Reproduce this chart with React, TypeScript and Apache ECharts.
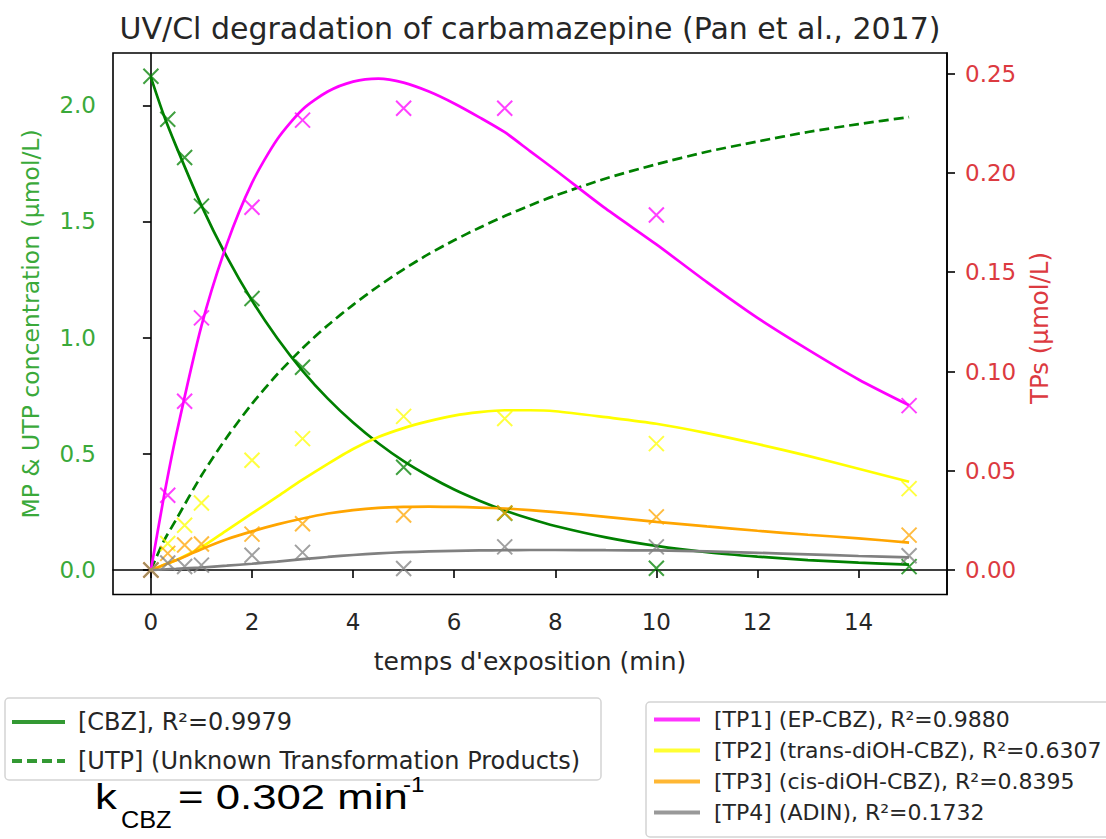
import React, { useEffect, useRef } from 'react';
import * as echarts from 'echarts';

// ---------- DATA ----------
const xTicks = [0, 2, 4, 6, 8, 10, 12, 14];
const leftTicks = [0, 0.5, 1.0, 1.5, 2.0];
const rightTicks = [0, 0.05, 0.1, 0.15, 0.2, 0.25];

// fitted curves
const fitT = [0, 0.25, 0.5, 1, 1.5, 2, 2.5, 3, 3.5, 4, 4.5, 5, 5.5, 6, 6.5, 7, 7.5, 8, 9, 10, 11, 12, 13, 14, 15];
const cbzFit = [2.12, 1.96, 1.823, 1.568, 1.348, 1.159, 0.997, 0.857, 0.737, 0.634, 0.545, 0.468, 0.403, 0.346, 0.298, 0.256, 0.22, 0.189, 0.14, 0.103, 0.076, 0.057, 0.042, 0.031, 0.023];
const utpFit = [0, 0.122, 0.217, 0.406, 0.57, 0.715, 0.842, 0.954, 1.053, 1.141, 1.221, 1.294, 1.36, 1.419, 1.473, 1.523, 1.569, 1.611, 1.685, 1.746, 1.8, 1.844, 1.885, 1.919, 1.949];
const tp1Fit = [0, 0.036, 0.068, 0.123, 0.164, 0.195, 0.217, 0.232, 0.241, 0.246, 0.2475, 0.2455, 0.241, 0.235, 0.228, 0.2205, 0.211, 0.2015, 0.182, 0.164, 0.145, 0.127, 0.111, 0.096, 0.083];
const tp2Fit = [0, 0.0025, 0.005, 0.0115, 0.02, 0.0285, 0.037, 0.0455, 0.0535, 0.061, 0.067, 0.0715, 0.075, 0.0778, 0.0795, 0.0805, 0.0805, 0.08, 0.077, 0.0737, 0.069, 0.0635, 0.0575, 0.051, 0.0445];
const tp3Fit = [0, 0.0025, 0.005, 0.0105, 0.0155, 0.0195, 0.023, 0.026, 0.0285, 0.0302, 0.0313, 0.0318, 0.032, 0.0318, 0.0315, 0.031, 0.0302, 0.0292, 0.0268, 0.0243, 0.022, 0.0198, 0.0178, 0.016, 0.0138];
const tp4Fit = [0, 0.0003, 0.0006, 0.0013, 0.0022, 0.0032, 0.0043, 0.0055, 0.0066, 0.0076, 0.0084, 0.009, 0.0094, 0.0097, 0.0099, 0.01, 0.0101, 0.0101, 0.01, 0.0099, 0.0094, 0.0087, 0.0079, 0.0071, 0.0064];

// measured points
const obsT = [0, 0.333, 0.667, 1, 2, 3, 5, 7, 10, 15];
const cbzObs = [2.125, 1.94, 1.775, 1.566, 1.168, 0.872, 0.442, 0.244, 0.007, 0.014];
const tp1Obs = [0, 0.0377, 0.085, 0.127, 0.1827, 0.2266, 0.2326, 0.2326, 0.1788, 0.0828];
const tp2Obs = [0, 0.0134, 0.0226, 0.0338, 0.0553, 0.0662, 0.0774, 0.0763, 0.0637, 0.041];
const tp3Obs = [0, 0.0084, 0.0126, 0.0131, 0.0181, 0.0233, 0.0277, 0.0288, 0.0268, 0.0176];
const tp4Obs = [0, 0.0036, 0.0018, 0.0025, 0.0075, 0.0089, 0.0008, 0.0117, 0.0117, 0.0072];

const names = {
  cbz: '[CBZ], R²=0.9979',
  utp: '[UTP] (Unknown Transformation Products)',
  tp1: '[TP1] (EP-CBZ), R²=0.9880',
  tp2: '[TP2] (trans-diOH-CBZ), R²=0.6307',
  tp3: '[TP3] (cis-diOH-CBZ), R²=0.8395',
  tp4: '[TP4] (ADIN), R²=0.1732',
};

const GREEN = '#008000';
const MAGENTA = '#ff00ff';
const YELLOW = '#ffff00';
const ORANGE = '#ffa500';
const GRAY = '#808080';
const FONT = 'DejaVu Sans';
const TXT = '#262626';
const LGREEN = '#3aa93a';
const LRED = '#dc3a40';

const pairs = (t: number[], v: number[]) => t.map((x, i) => [x, v[i]]);
const X_SYMBOL = 'path://M0,0L10,10M10,0L0,10';

function fitSeries(name: string, color: string, t: number[], v: number[], axis: number, dashed = false) {
  return {
    name,
    type: 'line',
    yAxisIndex: axis,
    data: pairs(t, v),
    smooth: 0.25,
    symbol: 'none',
    lineStyle: { color, width: 2.7, type: dashed ? [10, 5] : 'solid' },
    itemStyle: { color },
    z: 2,
  };
}

function obsSeries(id: string, color: string, v: number[], axis: number) {
  return {
    name: id,
    type: 'scatter',
    yAxisIndex: axis,
    data: pairs(obsT, v),
    symbol: X_SYMBOL,
    symbolSize: 15,
    itemStyle: { color: 'none', borderColor: color, borderWidth: 2, opacity: 0.75 },
    z: 3,
  };
}

export default function App() {
  const ref = useRef<HTMLDivElement>(null);
  useEffect(() => {
    const chart = echarts.init(ref.current!, null, { renderer: 'svg' });
    const axisLine = { show: true, lineStyle: { color: '#000', width: 1.6 } };
    const tick = (vals: number[]) => ({ show: true, customValues: vals, length: 8, lineStyle: { color: '#000', width: 1.6 } });
    const legendCommon = {
      orient: 'vertical', padding: 0, selectedMode: false,
      itemStyle: { opacity: 0 },
      lineStyle: { width: 4, opacity: 0.8 },
    };
    const option: any = {
      animation: false,
      backgroundColor: '#fff',
      textStyle: { fontFamily: FONT },
      grid: { left: 113, right: 159, top: 53, bottom: 244.5, show: true, borderColor: '#000', borderWidth: 1.6, containLabel: false },
      xAxis: {
        type: 'value', min: -0.75, max: 15.75,
        axisLine,
        axisTick: tick(xTicks),
        axisLabel: { customValues: xTicks, margin: 16, fontSize: 23, color: TXT, fontFamily: FONT },
        splitLine: { show: false },
      },
      yAxis: [
        {
          type: 'value', min: -0.106, max: 2.225, position: 'left',
          axisLine,
          axisTick: tick(leftTicks),
          axisLabel: { customValues: leftTicks, margin: 17, fontSize: 23, color: LGREEN, fontFamily: FONT, formatter: (v: number) => v.toFixed(1) },
          splitLine: { show: false },
        },
        {
          type: 'value', min: -0.0123, max: 0.2604, position: 'right',
          axisLine,
          axisTick: tick(rightTicks),
          axisLabel: { customValues: rightTicks, margin: 18, fontSize: 23, color: LRED, fontFamily: FONT, formatter: (v: number) => v.toFixed(2) },
          splitLine: { show: false },
        },
      ],
      legend: [
        {
          ...legendCommon,
          data: [names.cbz, names.utp], left: 10, top: 709,
          itemWidth: 53, itemHeight: 14, itemGap: 13,
          textStyle: { fontSize: 24, color: TXT, fontFamily: FONT, lineHeight: 26, padding: [0, 0, 0, 8] },
        },
        {
          ...legendCommon,
          data: [names.tp1, names.tp2, names.tp3, names.tp4], left: 652, top: 707,
          itemWidth: 46, itemHeight: 14, itemGap: 6,
          textStyle: { fontSize: 22, color: TXT, fontFamily: FONT, lineHeight: 25, padding: [0, 0, 0, 9] },
        },
      ],
      graphic: [
        { type: 'rect', shape: { x: 5, y: 698, width: 596, height: 82, r: 4 }, style: { fill: 'none', stroke: '#d4d4d4', lineWidth: 1.5 }, z: 0 },
        { type: 'rect', shape: { x: 646, y: 702, width: 480, height: 135, r: 4 }, style: { fill: 'none', stroke: '#d4d4d4', lineWidth: 1.5 }, z: 0 },
        { type: 'text', x: 530, y: 28, style: { text: 'UV/Cl degradation of carbamazepine (Pan et al., 2017)', font: `30px "${FONT}"`, fill: TXT, textAlign: 'center', textVerticalAlign: 'middle' } },
        { type: 'text', x: 530, y: 661, style: { text: "temps d'exposition (min)", font: `25px "${FONT}"`, fill: TXT, textAlign: 'center', textVerticalAlign: 'middle' } },
        { type: 'text', x: 31, y: 324, rotation: Math.PI / 2, style: { text: 'MP & UTP concentration (µmol/L)', font: `23.5px "${FONT}"`, fill: LGREEN, textAlign: 'center', textVerticalAlign: 'middle' } },
        { type: 'text', x: 1039, y: 328, rotation: Math.PI / 2, style: { text: 'TPs (µmol/L)', font: `24.5px "${FONT}"`, fill: LRED, textAlign: 'center', textVerticalAlign: 'middle' } },
        { type: 'text', x: 95, y: 797, scaleX: 1.25, style: { text: 'k', font: '35px "Liberation Sans"', fill: '#000', textVerticalAlign: 'middle' } },
        { type: 'text', x: 121, y: 820, scaleX: 1.1, style: { text: 'CBZ', font: '23px "Liberation Sans"', fill: '#000', textVerticalAlign: 'middle' } },
        { type: 'text', x: 178, y: 797, scaleX: 1.25, style: { text: '= 0.302 min', font: '35px "Liberation Sans"', fill: '#000', textVerticalAlign: 'middle' } },
        { type: 'text', x: 403, y: 784, scaleX: 1.1, style: { text: '-1', font: '22px "Liberation Sans"', fill: '#000', textVerticalAlign: 'middle' } },
      ],
      series: [
        fitSeries(names.cbz, GREEN, fitT, cbzFit, 0),
        fitSeries(names.utp, GREEN, fitT, utpFit, 0, true),
        fitSeries(names.tp1, MAGENTA, fitT, tp1Fit, 1),
        fitSeries(names.tp2, YELLOW, fitT, tp2Fit, 1),
        fitSeries(names.tp3, ORANGE, fitT, tp3Fit, 1),
        fitSeries(names.tp4, GRAY, fitT, tp4Fit, 1),
        obsSeries('CBZ obs', GREEN, cbzObs, 0),
        obsSeries('TP1 obs', MAGENTA, tp1Obs, 1),
        obsSeries('TP2 obs', YELLOW, tp2Obs, 1),
        obsSeries('TP3 obs', ORANGE, tp3Obs, 1),
        obsSeries('TP4 obs', GRAY, tp4Obs, 1),
      ],
    };
    chart.setOption(option);
    return () => chart.dispose();
  }, []);
  return <div ref={ref} style={{ position: 'absolute', left: 0, top: 0, width: 1106, height: 839, background: '#fff' }} />;
}
